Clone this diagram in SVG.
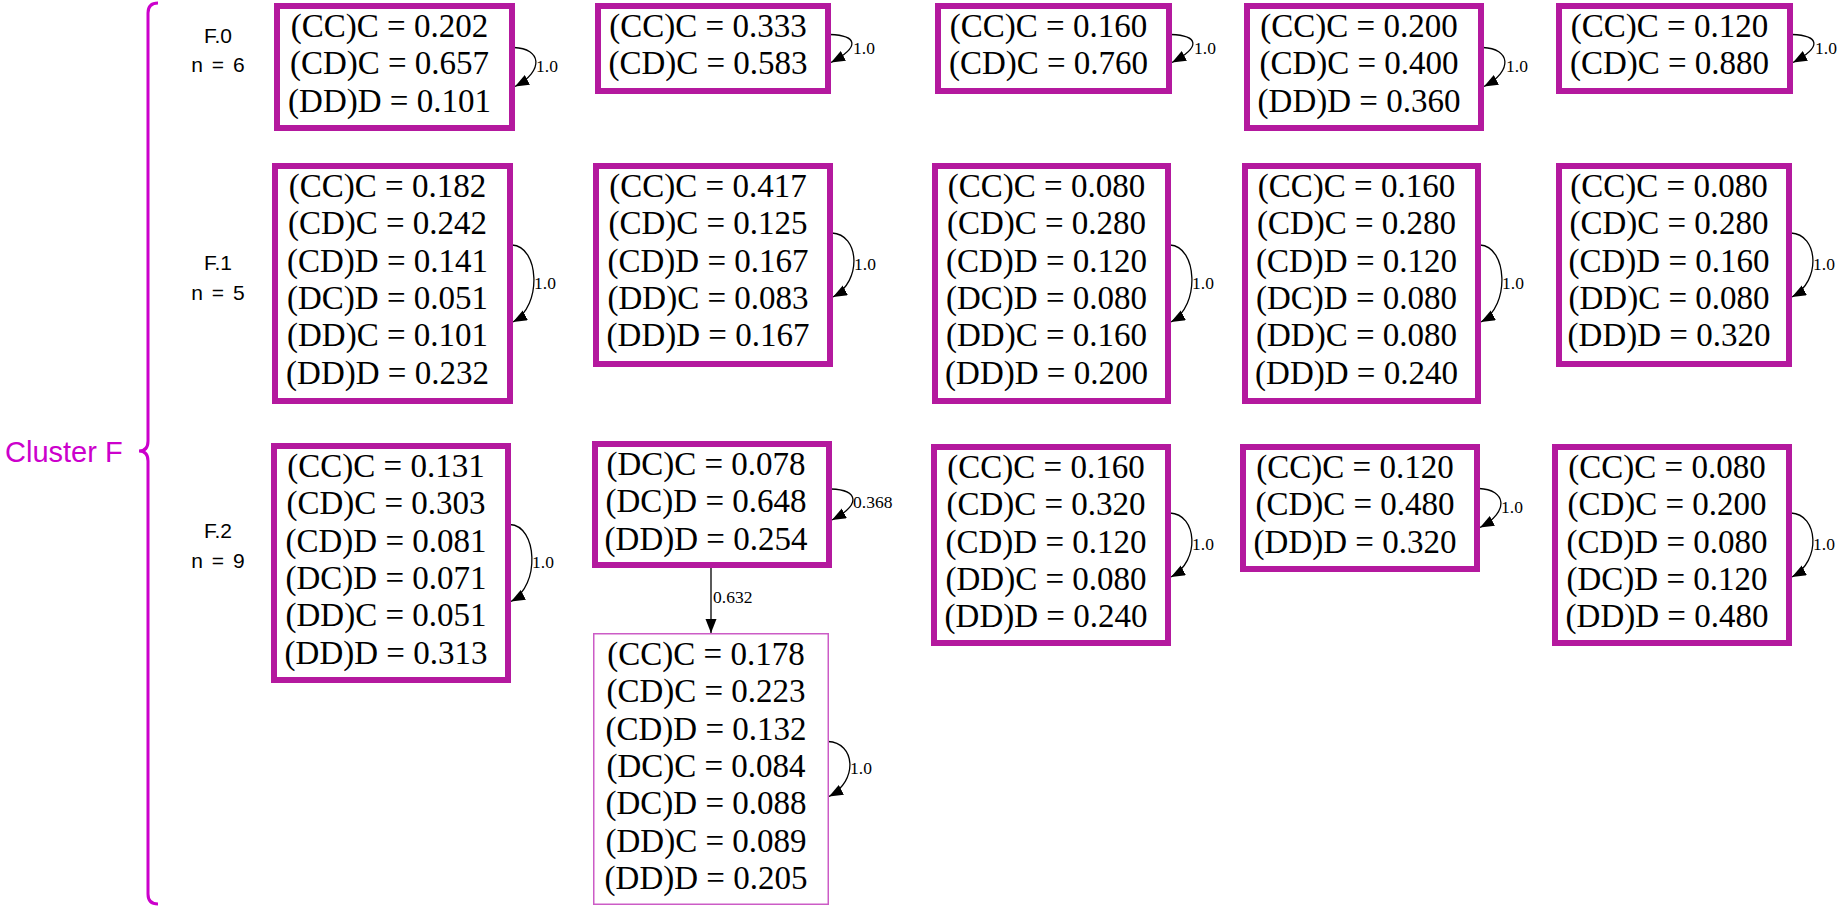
<svg xmlns="http://www.w3.org/2000/svg" width="1846" height="911" viewBox="0 0 1846 911">
<style>
.bx{fill:#fff;stroke:#b4199e;stroke-width:6}
.bt{fill:#fff;stroke:#cc5cc6;stroke-width:1.5}
.t{font-family:"Liberation Serif","Times New Roman",serif;font-size:33px;text-anchor:middle;fill:#000}
.l{font-family:"Liberation Serif","Times New Roman",serif;font-size:17.5px;fill:#000}
.s{font-family:"Liberation Sans",Arial,sans-serif;font-size:21px;text-anchor:middle;fill:#000;word-spacing:3px}
.e{fill:none;stroke:#000;stroke-width:1.3;marker-end:url(#ah)}
</style>
<defs>
<marker id="ah" markerUnits="userSpaceOnUse" markerWidth="15" markerHeight="12" refX="14" refY="5.5" orient="auto"><path d="M0,0 L14,5.5 L0,11 z" fill="#000"/></marker>
</defs>
<g id="cluster">
<path d="M158,3 Q148,3 148,13 L148,441 Q148,451 139,451 Q148,451 148,461 L148,894 Q148,904 158,904" fill="none" stroke="#cc00cc" stroke-width="3"/>
<text x="5" y="462" style="font-family:'Liberation Sans',Arial,sans-serif;font-size:29px;fill:#cc00cc">Cluster F</text>
</g>
<g id="labels">
<text class="s" x="218" y="43">F.0</text><text class="s" x="218" y="72">n = 6</text>
<text class="s" x="218" y="270">F.1</text><text class="s" x="218" y="300">n = 5</text>
<text class="s" x="218" y="538">F.2</text><text class="s" x="218" y="568">n = 9</text>
</g>
<g id="connectors">
<path class="e" d="M514,47.5 C541,48.5 545,70.5 515,86.5"/><text class="l" x="536" y="72">1.0</text>
<path class="e" d="M830,34.5 C857,35.5 861,46.5 831,62.5"/><text class="l" x="853" y="53.5">1.0</text>
<path class="e" d="M1171,34.5 C1198,35.5 1202,46.5 1172,62.5"/><text class="l" x="1194" y="53.5">1.0</text>
<path class="e" d="M1483,47.5 C1510,48.5 1514,70.5 1484,86.5"/><text class="l" x="1506" y="72">1.0</text>
<path class="e" d="M1792,34.5 C1819,35.5 1823,46.5 1793,62.5"/><text class="l" x="1815" y="53.5">1.0</text>
<path class="e" d="M512,245 C539,246 543,306 513,322"/><text class="l" x="534" y="288.5">1.0</text>
<path class="e" d="M832,233 C859,234 863,281 833,297"/><text class="l" x="854" y="270">1.0</text>
<path class="e" d="M1170,245 C1197,246 1201,306 1171,322"/><text class="l" x="1192" y="288.5">1.0</text>
<path class="e" d="M1480,245 C1507,246 1511,306 1481,322"/><text class="l" x="1502" y="288.5">1.0</text>
<path class="e" d="M1791,233 C1818,234 1822,281 1792,297"/><text class="l" x="1813" y="270">1.0</text>
<path class="e" d="M510,524.5 C537,525.5 541,585.5 511,601.5"/><text class="l" x="532" y="568">1.0</text>
<path class="e" d="M831,489 C858,490 862,504 832,520"/><text class="l" x="853" y="508">0.368</text>
<path class="e" d="M711,568 L711,633"/><text class="l" x="713" y="603">0.632</text>
<path class="e" d="M828,741.5 C855,742.5 859,780.5 829,796.5"/><text class="l" x="850" y="774">1.0</text>
<path class="e" d="M1170,513 C1197,514 1201,561 1171,577"/><text class="l" x="1192" y="550">1.0</text>
<path class="e" d="M1479,488.5 C1506,489.5 1510,511.5 1480,527.5"/><text class="l" x="1501" y="513">1.0</text>
<path class="e" d="M1791,513 C1818,514 1822,561 1792,577"/><text class="l" x="1813" y="550">1.0</text>
</g>
<g id="A0"><rect class="bx" x="277" y="6" width="235" height="122"/>
<text class="t" x="389.5" y="37">(CC)C = 0.202</text><text class="t" x="389.5" y="74.3">(CD)C = 0.657</text><text class="t" x="389.5" y="111.6">(DD)D = 0.101</text></g>
<g id="A1"><rect class="bx" x="598" y="6" width="230" height="85"/>
<text class="t" x="708" y="37">(CC)C = 0.333</text><text class="t" x="708" y="74.3">(CD)C = 0.583</text></g>
<g id="A2"><rect class="bx" x="938" y="6" width="231" height="85"/>
<text class="t" x="1048.5" y="37">(CC)C = 0.160</text><text class="t" x="1048.5" y="74.3">(CD)C = 0.760</text></g>
<g id="A3"><rect class="bx" x="1247" y="6" width="234" height="122"/>
<text class="t" x="1359" y="37">(CC)C = 0.200</text><text class="t" x="1359" y="74.3">(CD)C = 0.400</text><text class="t" x="1359" y="111.6">(DD)D = 0.360</text></g>
<g id="A4"><rect class="bx" x="1559" y="6" width="231" height="85"/>
<text class="t" x="1669.5" y="37">(CC)C = 0.120</text><text class="t" x="1669.5" y="74.3">(CD)C = 0.880</text></g>
<g id="B0"><rect class="bx" x="275" y="166" width="235" height="235"/>
<text class="t" x="387.5" y="197">(CC)C = 0.182</text><text class="t" x="387.5" y="234.3">(CD)C = 0.242</text><text class="t" x="387.5" y="271.6">(CD)D = 0.141</text><text class="t" x="387.5" y="308.9">(DC)D = 0.051</text><text class="t" x="387.5" y="346.2">(DD)C = 0.101</text><text class="t" x="387.5" y="383.5">(DD)D = 0.232</text></g>
<g id="B1"><rect class="bx" x="596" y="166" width="234" height="198"/>
<text class="t" x="708" y="197">(CC)C = 0.417</text><text class="t" x="708" y="234.3">(CD)C = 0.125</text><text class="t" x="708" y="271.6">(CD)D = 0.167</text><text class="t" x="708" y="308.9">(DD)C = 0.083</text><text class="t" x="708" y="346.2">(DD)D = 0.167</text></g>
<g id="B2"><rect class="bx" x="935" y="166" width="233" height="235"/>
<text class="t" x="1046.5" y="197">(CC)C = 0.080</text><text class="t" x="1046.5" y="234.3">(CD)C = 0.280</text><text class="t" x="1046.5" y="271.6">(CD)D = 0.120</text><text class="t" x="1046.5" y="308.9">(DC)D = 0.080</text><text class="t" x="1046.5" y="346.2">(DD)C = 0.160</text><text class="t" x="1046.5" y="383.5">(DD)D = 0.200</text></g>
<g id="B3"><rect class="bx" x="1245" y="166" width="233" height="235"/>
<text class="t" x="1356.5" y="197">(CC)C = 0.160</text><text class="t" x="1356.5" y="234.3">(CD)C = 0.280</text><text class="t" x="1356.5" y="271.6">(CD)D = 0.120</text><text class="t" x="1356.5" y="308.9">(DC)D = 0.080</text><text class="t" x="1356.5" y="346.2">(DD)C = 0.080</text><text class="t" x="1356.5" y="383.5">(DD)D = 0.240</text></g>
<g id="B4"><rect class="bx" x="1559" y="166" width="230" height="198"/>
<text class="t" x="1669" y="197">(CC)C = 0.080</text><text class="t" x="1669" y="234.3">(CD)C = 0.280</text><text class="t" x="1669" y="271.6">(CD)D = 0.160</text><text class="t" x="1669" y="308.9">(DD)C = 0.080</text><text class="t" x="1669" y="346.2">(DD)D = 0.320</text></g>
<g id="C0"><rect class="bx" x="274" y="446" width="234" height="234"/>
<text class="t" x="386" y="477">(CC)C = 0.131</text><text class="t" x="386" y="514.3">(CD)C = 0.303</text><text class="t" x="386" y="551.6">(CD)D = 0.081</text><text class="t" x="386" y="588.9">(DC)D = 0.071</text><text class="t" x="386" y="626.2">(DD)C = 0.051</text><text class="t" x="386" y="663.5">(DD)D = 0.313</text></g>
<g id="C1a"><rect class="bx" x="595" y="444" width="234" height="121"/>
<text class="t" x="706" y="475">(DC)C = 0.078</text><text class="t" x="706" y="512.3">(DC)D = 0.648</text><text class="t" x="706" y="549.6">(DD)D = 0.254</text></g>
<g id="C1b"><rect class="bt" x="593.75" y="633.75" width="234.5" height="270.5"/>
<text class="t" x="706" y="665">(CC)C = 0.178</text><text class="t" x="706" y="702.3">(CD)C = 0.223</text><text class="t" x="706" y="739.6">(CD)D = 0.132</text><text class="t" x="706" y="776.9">(DC)C = 0.084</text><text class="t" x="706" y="814.2">(DC)D = 0.088</text><text class="t" x="706" y="851.5">(DD)C = 0.089</text><text class="t" x="706" y="888.8">(DD)D = 0.205</text></g>
<g id="C2"><rect class="bx" x="934" y="447" width="234" height="196"/>
<text class="t" x="1046" y="478">(CC)C = 0.160</text><text class="t" x="1046" y="515.3">(CD)C = 0.320</text><text class="t" x="1046" y="552.6">(CD)D = 0.120</text><text class="t" x="1046" y="589.9">(DD)C = 0.080</text><text class="t" x="1046" y="627.2">(DD)D = 0.240</text></g>
<g id="C3"><rect class="bx" x="1243" y="447" width="234" height="122"/>
<text class="t" x="1355" y="478">(CC)C = 0.120</text><text class="t" x="1355" y="515.3">(CD)C = 0.480</text><text class="t" x="1355" y="552.6">(DD)D = 0.320</text></g>
<g id="C4"><rect class="bx" x="1555" y="447" width="234" height="196"/>
<text class="t" x="1667" y="478">(CC)C = 0.080</text><text class="t" x="1667" y="515.3">(CD)C = 0.200</text><text class="t" x="1667" y="552.6">(CD)D = 0.080</text><text class="t" x="1667" y="589.9">(DC)D = 0.120</text><text class="t" x="1667" y="627.2">(DD)D = 0.480</text></g>
</svg>
